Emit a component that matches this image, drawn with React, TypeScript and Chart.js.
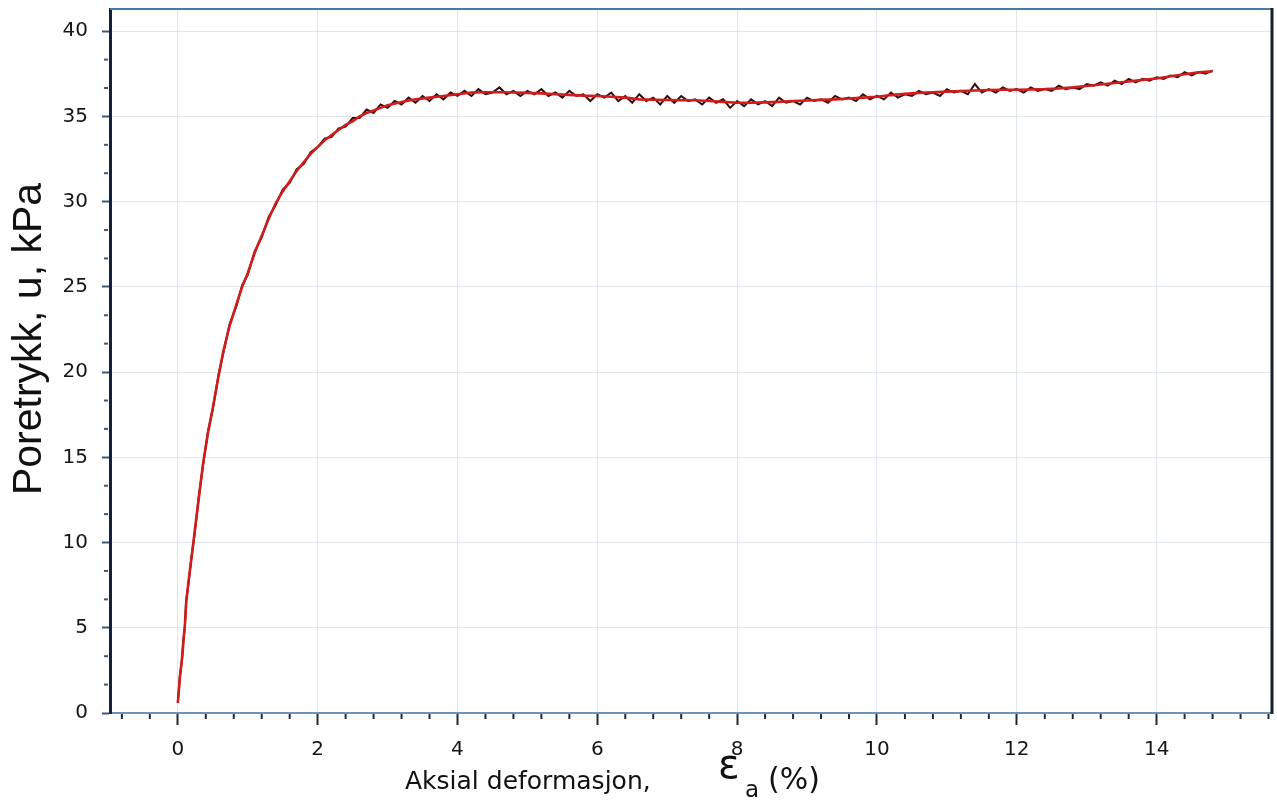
import React, { useEffect, useRef } from "react";
import { Chart, registerables } from "chart.js";

Chart.register(...registerables);

// Measured pore pressure trace (strain %, pore pressure kPa)
const strainRaw = [
  0, 0.03, 0.06, 0.08, 0.1, 0.12, 0.15, 0.19, 0.24, 0.3, 0.36, 0.43, 0.5, 0.58, 0.65, 0.74, 0.84, 0.92,
  1.0, 1.1, 1.2, 1.3, 1.4, 1.5, 1.6, 1.7, 1.8, 1.9,
  2.0, 2.1, 2.2, 2.3, 2.4, 2.5, 2.6, 2.7, 2.8, 2.9, 3.0,
  3.1, 3.2, 3.3, 3.4, 3.5, 3.6, 3.7, 3.8, 3.9, 4.0,
  4.1, 4.2, 4.3, 4.4, 4.5, 4.6, 4.7, 4.8, 4.9, 5.0,
  5.1, 5.2, 5.3, 5.4, 5.5, 5.6, 5.7, 5.8, 5.9, 6.0,
  6.1, 6.2, 6.3, 6.4, 6.5, 6.6, 6.7, 6.8, 6.9, 7.0,
  7.1, 7.2, 7.3, 7.4, 7.5, 7.6, 7.7, 7.8, 7.9, 8.0,
  8.1, 8.2, 8.3, 8.4, 8.5, 8.6, 8.7, 8.8, 8.9, 9.0,
  9.1, 9.2, 9.3, 9.4, 9.5, 9.6, 9.7, 9.8, 9.9, 10.0,
  10.1, 10.2, 10.3, 10.4, 10.5, 10.6, 10.7, 10.8, 10.9, 11.0,
  11.1, 11.2, 11.3, 11.4, 11.5, 11.6, 11.7, 11.8, 11.9, 12.0,
  12.1, 12.2, 12.3, 12.4, 12.5, 12.6, 12.7, 12.8, 12.9, 13.0,
  13.1, 13.2, 13.3, 13.4, 13.5, 13.6, 13.7, 13.8, 13.9, 14.0,
  14.1, 14.2, 14.3, 14.4, 14.5, 14.6, 14.7, 14.8,
];
const poreRaw = [
  0.6, 2.2, 3.1, 4.3, 5.0, 6.6, 7.5, 9.0, 10.5, 12.7, 14.5, 16.5, 17.8, 19.8, 21.1, 22.8, 23.9, 25.1,
  25.7, 27.1, 27.9, 29.1, 29.8, 30.7, 31.1, 31.9, 32.2, 32.9,
  33.2, 33.7, 33.8, 34.3, 34.4, 34.9, 34.9, 35.4, 35.2, 35.7, 35.5,
  35.9, 35.7, 36.1, 35.8, 36.2, 35.9, 36.3, 36.0, 36.4, 36.2,
  36.5, 36.2, 36.6, 36.3, 36.4, 36.7, 36.3, 36.5, 36.2, 36.5,
  36.3, 36.6, 36.2, 36.4, 36.1, 36.5, 36.2, 36.3, 35.9, 36.3,
  36.1, 36.4, 35.9, 36.2, 35.8, 36.3, 35.9, 36.1, 35.7, 36.2,
  35.8, 36.2, 35.9, 36.0, 35.7, 36.1, 35.8, 36.0, 35.5, 35.9,
  35.6, 36.0, 35.7, 35.9, 35.6, 36.1, 35.8, 35.9, 35.7, 36.1,
  35.9, 36.0, 35.8, 36.2, 36.0, 36.1, 35.9, 36.3, 36.0, 36.2,
  36.0, 36.4, 36.1, 36.3, 36.2, 36.5, 36.3, 36.4, 36.2, 36.6,
  36.4, 36.5, 36.3, 36.9, 36.4, 36.6, 36.4, 36.7, 36.5, 36.6,
  36.4, 36.7, 36.5, 36.6, 36.5, 36.8, 36.6, 36.7, 36.6, 36.9,
  36.8, 37.0, 36.8, 37.1, 36.9, 37.2, 37.0, 37.2, 37.1, 37.3,
  37.2, 37.4, 37.3, 37.6, 37.4, 37.6, 37.5, 37.7,
];

// Smoothed trend (red line)
const strainFit = [
  0, 0.03, 0.06, 0.08, 0.1, 0.12, 0.15, 0.19, 0.24, 0.3, 0.36, 0.43, 0.5, 0.58, 0.65, 0.74, 0.84, 0.92,
  1.0, 1.1, 1.2, 1.3, 1.4, 1.5, 1.6, 1.7, 1.8, 1.9, 2.0, 2.1, 2.2, 2.3, 2.4, 2.5, 2.6, 2.7, 2.8, 2.9,
  3.0, 3.2, 3.4, 3.6, 3.8, 4.0, 4.2, 4.4, 4.6, 4.8, 5.0, 5.2, 5.4, 5.6, 5.8, 6.0, 6.2, 6.4, 6.6, 6.8,
  7.0, 7.2, 7.4, 7.6, 7.8, 8.0, 8.2, 8.4, 8.6, 8.8, 9.0, 9.2, 9.4, 9.6, 9.8, 10.0, 10.2, 10.4, 10.6,
  10.8, 11.0, 11.2, 11.4, 11.6, 11.8, 12.0, 12.2, 12.4, 12.6, 12.8, 13.0, 13.2, 13.4, 13.6, 13.8,
  14.0, 14.2, 14.4, 14.6, 14.8,
];
const poreFit = [
  0.6, 2.1, 3.2, 4.2, 5.1, 6.5, 7.6, 8.9, 10.6, 12.6, 14.6, 16.4, 17.9, 19.7, 21.2, 22.7, 24.0, 25.0,
  25.8, 27.0, 28.0, 29.0, 29.9, 30.6, 31.2, 31.8, 32.3, 32.8, 33.2, 33.6, 33.9, 34.2, 34.5, 34.7, 35.0,
  35.2, 35.35, 35.5,
  35.65, 35.85, 36.0, 36.1, 36.2, 36.3, 36.4, 36.42, 36.42, 36.4, 36.38, 36.35, 36.3, 36.26, 36.22,
  36.2, 36.15, 36.1, 36.0, 35.98,
  35.96, 35.95, 35.95, 35.9, 35.85, 35.8, 35.8, 35.82, 35.85, 35.9, 35.93, 35.97, 36.0, 36.05, 36.1,
  36.15, 36.25, 36.32, 36.38,
  36.42, 36.45, 36.48, 36.52, 36.55, 36.56, 36.56, 36.58, 36.6, 36.64, 36.7, 36.78, 36.87, 36.96,
  37.05, 37.14,
  37.22, 37.35, 37.47, 37.58, 37.65,
];

const xTicks = [0, 2, 4, 6, 8, 10, 12, 14];
const yTicks = [0, 5, 10, 15, 20, 25, 30, 35, 40];
const xMinorTicks = [
  -0.8, -0.4, 0.4, 0.8, 1.2, 1.6, 2.4, 2.8, 3.2, 3.6, 4.4, 4.8, 5.2, 5.6, 6.4, 6.8, 7.2, 7.6, 8.4, 8.8,
  9.2, 9.6, 10.4, 10.8, 11.2, 11.6, 12.4, 12.8, 13.2, 13.6, 14.4, 14.8, 15.2, 15.6,
];
const yMinorTicks = [
  1.667, 3.333, 6.667, 8.333, 11.667, 13.333, 16.667, 18.333, 21.667, 23.333, 26.667, 28.333, 31.667,
  33.333, 36.667, 38.333,
];

const yTitle = "Poretrykk, u, kPa";
const xTitle = "Aksial deformasjon,";
const xSymbol = "ε";
const xSub = "a";
const xUnit = "(%)";

const decorPlugin = {
  id: "decor",
  afterDraw(chart: any) {
    const { ctx, chartArea, scales } = chart;
    const { left, right, top, bottom } = chartArea;
    ctx.save();
    // top border
    ctx.strokeStyle = "#4a79a3";
    ctx.lineWidth = 2;
    ctx.beginPath();
    ctx.moveTo(left, top);
    ctx.lineTo(right, top);
    ctx.stroke();
    // right border
    ctx.strokeStyle = "#17202e";
    ctx.lineWidth = 3;
    ctx.beginPath();
    ctx.moveTo(right, top - 1);
    ctx.lineTo(right, bottom + 1);
    ctx.stroke();
    // minor ticks
    ctx.strokeStyle = "#1f2a38";
    ctx.lineWidth = 2;
    for (const v of xMinorTicks) {
      const px = scales.x.getPixelForValue(v);
      if (px < left - 1 || px > right + 1) continue;
      ctx.beginPath();
      ctx.moveTo(px, bottom + 1);
      ctx.lineTo(px, bottom + 6);
      ctx.stroke();
    }
    ctx.strokeStyle = "#3c5a78";
    for (const v of yMinorTicks) {
      const py = scales.y.getPixelForValue(v);
      ctx.beginPath();
      ctx.moveTo(left - 2, py);
      ctx.lineTo(left - 6, py);
      ctx.stroke();
    }
    // y title
    ctx.fillStyle = "#111";
    ctx.save();
    ctx.translate(30, 339);
    ctx.rotate(-Math.PI / 2);
    ctx.font = '41px "Liberation Sans", Arial, sans-serif';
    ctx.textAlign = "center";
    ctx.textBaseline = "middle";
    ctx.fillText(yTitle, 0, 0);
    ctx.restore();
    // x title
    ctx.textAlign = "left";
    ctx.textBaseline = "alphabetic";
    ctx.font = '25px "DejaVu Sans", Verdana, sans-serif';
    ctx.fillText(xTitle, 405, 789);
    ctx.font = '40px "DejaVu Sans", Verdana, sans-serif';
    ctx.fillText(xSymbol, 718, 778);
    ctx.font = '23px "DejaVu Sans", Verdana, sans-serif';
    ctx.fillText(xSub, 745, 797);
    ctx.font = '30px "DejaVu Sans", Verdana, sans-serif';
    ctx.fillText(xUnit, 768, 789);
    ctx.restore();
  },
};

export default function App() {
  const ref = useRef<HTMLCanvasElement | null>(null);
  useEffect(() => {
    if (!ref.current) return;
    const chart = new Chart(ref.current, {
      type: "scatter",
      data: {
        datasets: [
          {
            label: "Trend",
            data: strainFit.map((x, i) => ({ x, y: poreFit[i] })),
            showLine: true,
            borderColor: "#cf1c1c",
            borderWidth: 2.6,
            pointRadius: 0,
            order: 0,
          },
          {
            label: "Målt",
            data: strainRaw.map((x, i) => ({ x, y: poreRaw[i] })),
            showLine: true,
            borderColor: "#3a0a0a",
            borderWidth: 2,
            pointRadius: 0,
            order: 1,
          },
        ],
      },
      options: {
        animation: false,
        responsive: false,
        maintainAspectRatio: false,
        devicePixelRatio: 1,
        layout: { padding: { top: 9, right: 5, left: 0, bottom: 0 } },
        plugins: { legend: { display: false }, tooltip: { enabled: false } },
        scales: {
          x: {
            type: "linear",
            min: -0.97,
            max: 15.65,
            afterBuildTicks: (s: any) => {
              s.ticks = xTicks.map((v) => ({ value: v }));
            },
            afterFit: (s: any) => {
              s.height = 87;
              s.paddingLeft = 0;
              s.paddingRight = 0;
            },
            grid: {
              color: "rgba(200,208,222,0.55)",
              lineWidth: 1,
              tickColor: "#1f2a38",
              tickWidth: 2,
              tickLength: 12,
            },
            border: { display: true, color: "#6d94b5", width: 2 },
            ticks: {
              color: "#151515",
              font: { family: '"DejaVu Sans", Verdana, sans-serif', size: 20 },
              padding: 13,
              maxRotation: 0,
              callback: (v: any) => String(v),
            },
          },
          y: {
            type: "linear",
            min: 0,
            max: 41.3,
            afterBuildTicks: (s: any) => {
              s.ticks = yTicks.map((v) => ({ value: v }));
            },
            afterFit: (s: any) => {
              s.width = 110;
              s.paddingTop = 0;
              s.paddingBottom = 0;
            },
            grid: {
              color: "rgba(200,208,222,0.55)",
              lineWidth: 1,
              tickColor: "#3c5a78",
              tickWidth: 2,
              tickLength: 8,
            },
            border: { display: true, color: "#13213a", width: 3 },
            ticks: {
              color: "#151515",
              font: { family: '"DejaVu Sans", Verdana, sans-serif', size: 20 },
              padding: 14,
              callback: (v: any) => String(v),
            },
          },
        },
      },
      plugins: [decorPlugin],
    });
    return () => chart.destroy();
  }, []);
  return (
    <div style={{ position: "fixed", left: 0, top: 0, width: 1277, height: 800, background: "#fff" }}>
      <canvas ref={ref} width={1277} height={800} style={{ display: "block" }} />
    </div>
  );
}
